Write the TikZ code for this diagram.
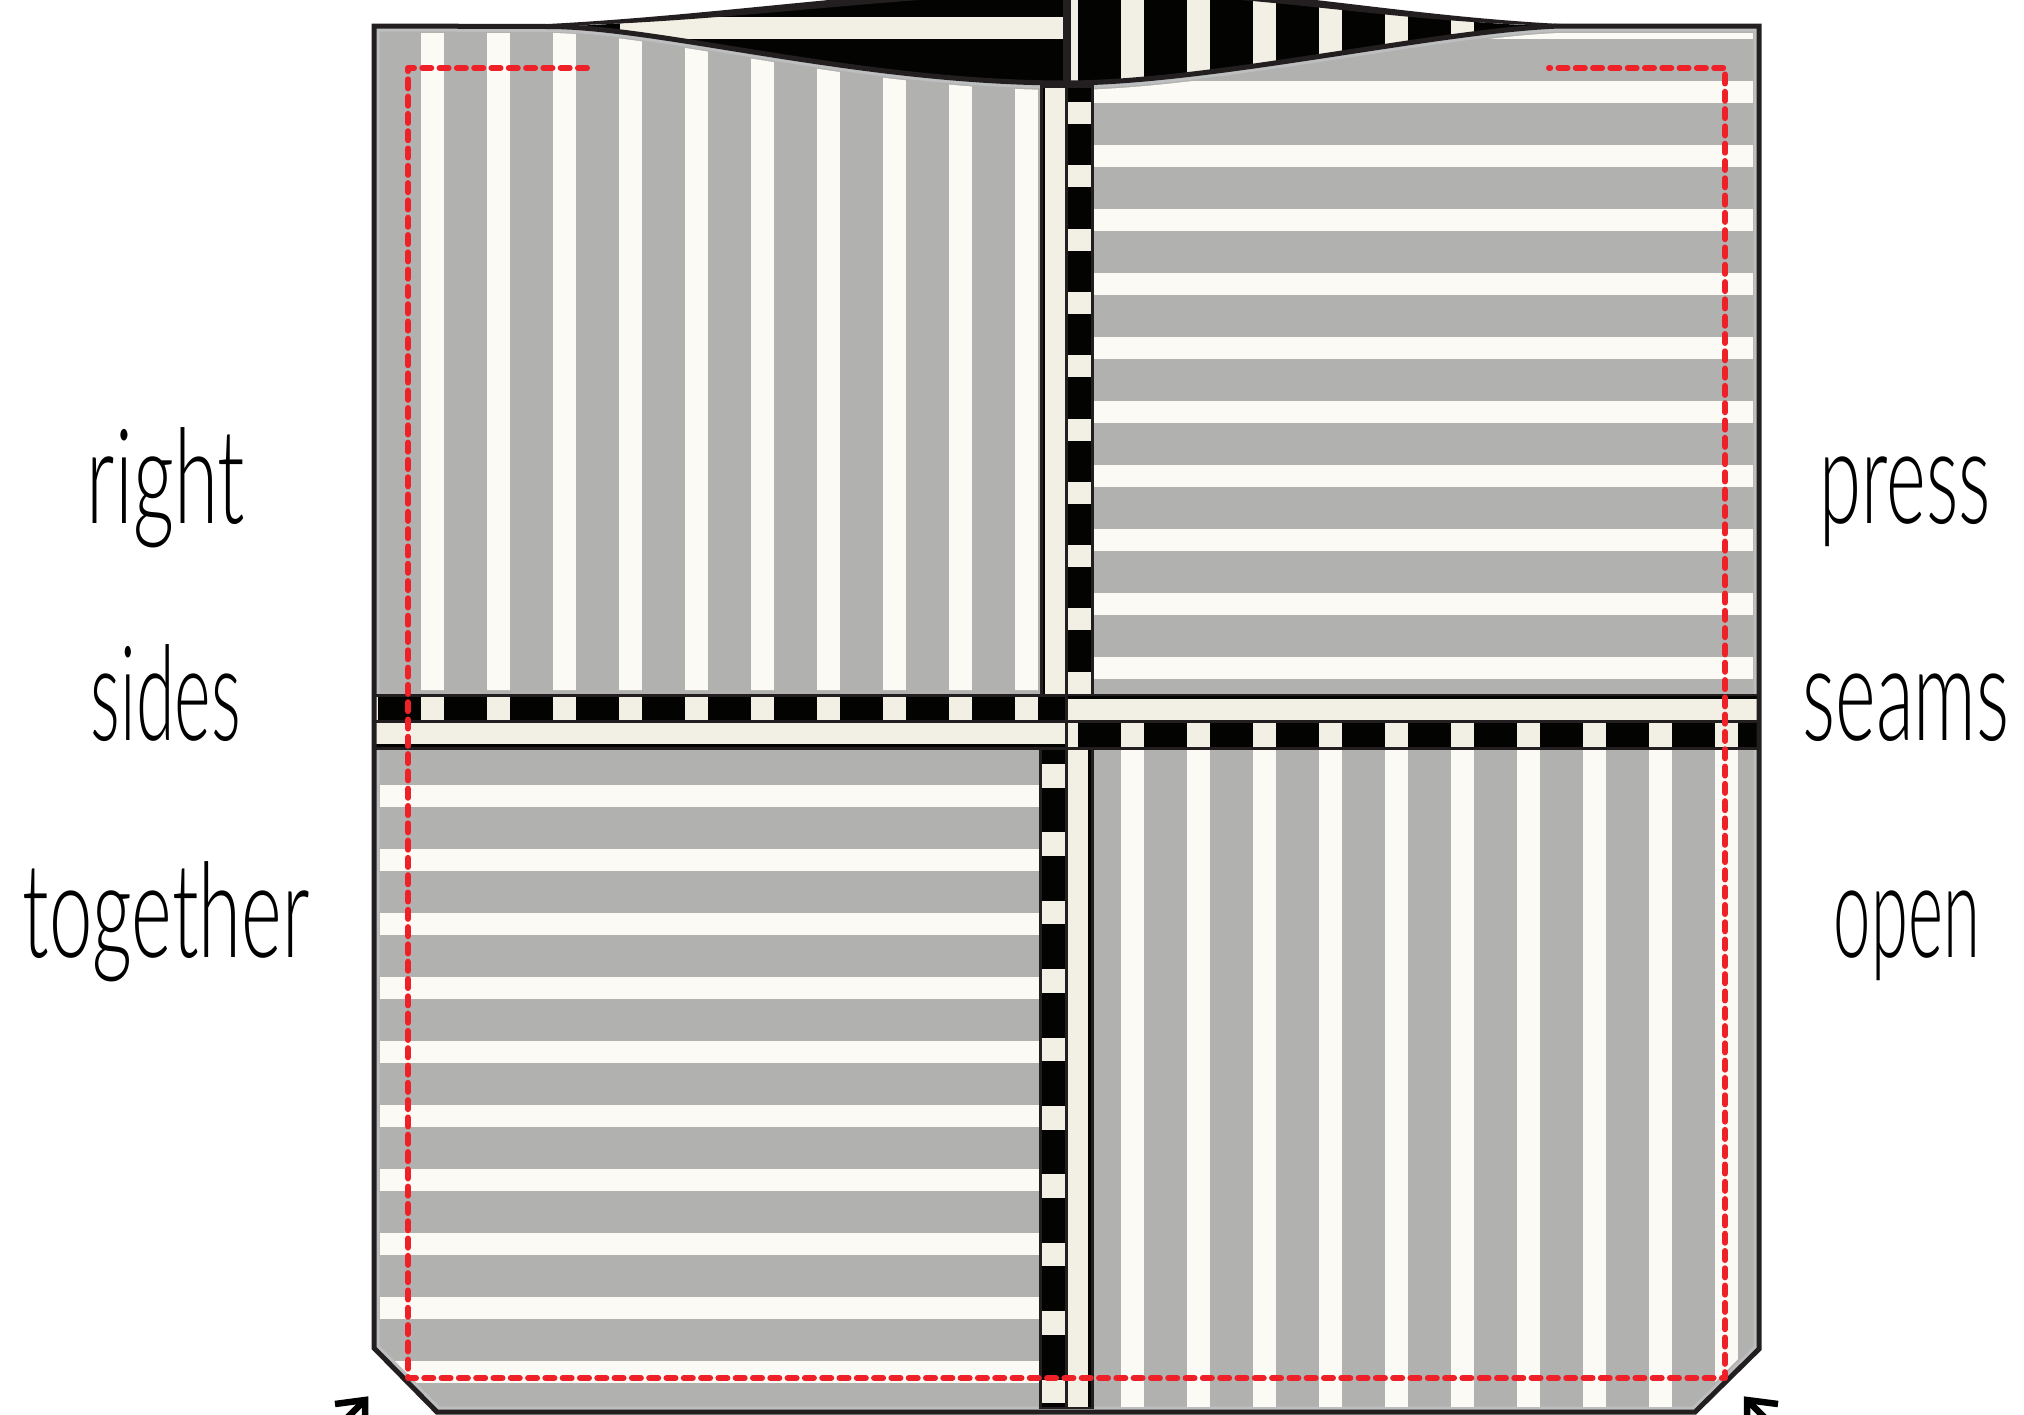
\documentclass[tikz,border=0pt]{standalone}
\usepackage{fontspec}
\newfontfamily\curlfont{Lato Light}
\definecolor{panelgray}{HTML}{B1B1AF}
\definecolor{halogray}{HTML}{BDBEBF}
\definecolor{stripewhite}{HTML}{FBFAF5}
\definecolor{creamy}{HTML}{F2F0E4}
\definecolor{darkline}{HTML}{231F20}
\definecolor{inkblack}{HTML}{030402}
\definecolor{seamred}{HTML}{EE2028}
\tikzset{
  px/.style={line width=#1*0.2845pt},
  outline/.style={draw=darkline,px=5,line join=miter},
  seam/.style={draw=seamred,px=6,line cap=round,line join=round,dash pattern=on 2.56pt off 2.36pt},
  pointer/.style={draw=black,px=6.5,line join=miter},
  curl/.style={font=\curlfont\fontsize{30pt}{30pt}\selectfont,text=black,inner sep=0pt,anchor=base}
}
\newdimen\pxunit \pxunit=0.2845pt
\newcommand{\fitword}[2]{\resizebox{#1\pxunit}{\height}{\scalebox{1}[1.25]{#2}}}
\newcommand{\outerpath}{(374,1348) -- (374,26) -- (550,26.5) .. controls (660,27) and (860,83) .. (1066,83) .. controls (1210,83) and (1440,30) .. (1560,26) -- (1759,26) -- (1759,1349) -- (1695,1412) -- (437,1412) -- cycle}
\newcommand{\flappath}{(550,26.5) .. controls (690,24) and (860,-6) .. (1066,-12) .. controls (1280,-12) and (1400,24) .. (1560,26) .. controls (1440,30) and (1210,83) .. (1066,83) .. controls (860,83) and (660,27) .. (550,26.5) -- cycle}
\begin{document}
\begin{tikzpicture}[x=0.01cm,y=-0.01cm]
\useasboundingbox (0,0) rectangle (2024,1414);
\clip (0,0) rectangle (2024,1414);
\fill[white] (0,0) rectangle (2024,1414);
% cloth
\fill[panelgray] \outerpath;
\begin{scope}
  \clip \outerpath;
  \draw[halogray,px=11] \outerpath;
\end{scope}
% white stripes
\begin{scope}
  \clip (378,33) -- (550,33) .. controls (660,34) and (860,90) .. (1066,90) -- (1066,690) -- (378,690) -- cycle;
  \foreach \x in {421,487,...,1015} \fill[stripewhite] (\x,0) rectangle (\x+23,700);
\end{scope}
\begin{scope}
  \clip (1066,90) .. controls (1210,90) and (1440,37) .. (1560,33) -- (1753,33) -- (1753,693) -- (1066,693) -- cycle;
  \fill[stripewhite] (1093,17) rectangle (1753,39);
  \foreach \y in {81,145,...,657} \fill[stripewhite] (1093,\y) rectangle (1753,\y+22);
\end{scope}
\begin{scope}
  \clip (380,750) -- (1040,750) -- (1040,1407) -- (441,1407) -- (380,1346) -- cycle;
  \foreach \y in {785,849,...,1361} \fill[stripewhite] (380,\y) rectangle (1040,\y+22);
\end{scope}
\begin{scope}
  \clip (1093,750) -- (1757,750) -- (1757,1340) -- (1690,1407) -- (1093,1407) -- cycle;
  \foreach \x in {1121,1187,...,1715} \fill[stripewhite] (\x,750) rectangle (\x+23,1407);
\end{scope}
% top flap
\begin{scope}
  \clip \flappath;
  \fill[inkblack] (500,-20) rectangle (1600,90);
  \fill[creamy] (620,17) rectangle (1063,39);
  \fill[creamy] (1071,-20) rectangle (1077.5,90);
  \foreach \x in {1121,1187,...,1451} \fill[creamy] (\x,-20) rectangle (\x+23,90);
  \fill[darkline] (1063,-20) rectangle (1071,90);
\end{scope}
% thick tapered upper edge of the flap
\fill[darkline] (500,26) .. controls (690,20) and (860,-10) .. (1066,-16) .. controls (1280,-16) and (1400,20) .. (1610,26)
  .. controls (1400,28) and (1280,-8) .. (1066,-8) .. controls (860,-2) and (690,28) .. (500,26) -- cycle;
% vertical strip, top
\fill[darkline] (1040,85) rectangle (1093.5,696);
\fill[inkblack] (1042.5,88) rectangle (1045,694);
\fill[creamy] (1045,88) rectangle (1065,694);
\fill[inkblack] (1068,88) rectangle (1091,694);
\foreach \k in {0,...,9} \fill[creamy] (1068,102+\k*63.3) rectangle (1091,124+\k*63.3);
% horizontal strip, left
\fill[darkline] (374,693.5) rectangle (1068,750);
\fill[inkblack] (376,697) rectangle (1065,720);
\fill[creamy] (376,697) rectangle (378,720);
\foreach \x in {421,487,...,1015} \fill[creamy] (\x,697) rectangle (\x+23,720);
\fill[creamy] (376,723) rectangle (1065,744);
\fill[inkblack] (376,744) rectangle (1065,747);
% horizontal strip, right
\fill[darkline] (1065,693.5) rectangle (1759,750);
\fill[inkblack] (1068,696) rectangle (1757,699);
\fill[creamy] (1068,699) rectangle (1757,720);
\fill[inkblack] (1068,723) rectangle (1757,747);
\fill[creamy] (1068,723) rectangle (1078,747);
\foreach \x in {1121,1187,...,1715} \fill[creamy] (\x,723) rectangle (\x+23,747);
% vertical strip, bottom
\fill[darkline] (1039,750) rectangle (1093.5,1409);
\fill[inkblack] (1042,750) rectangle (1065,1407);
\foreach \k in {0,...,9} \fill[creamy] (1042,764+\k*68.4) rectangle (1065,787.5+\k*68.4);
\fill[creamy] (1068,750) rectangle (1088,1407);
\fill[inkblack] (1088,750) rectangle (1091,1407);
% outline
\draw[outline] \outerpath;
% seam line
\coordinate (seamA) at (587,68);
\coordinate (seamB) at (408,68);
\coordinate (seamC) at (408,1378);
\coordinate (seamD) at (1725,1378);
\coordinate (seamE) at (1725,68);
\coordinate (seamF) at (1549,68);
\draw[seam] (seamA) -- (seamB) -- (seamC) -- (seamD) -- (seamE) -- (seamF);
% pointers
\coordinate (leftTip) at (365,1400);
\coordinate (leftTail) at (325,1440);
\coordinate (leftBarbA) at (335,1404);
\coordinate (leftBarbB) at (365,1440);
\coordinate (rightTip) at (1747,1400);
\coordinate (rightTail) at (1787,1440);
\coordinate (rightBarbA) at (1778,1404);
\coordinate (rightBarbB) at (1747,1440);
\draw[pointer] (leftTail) -- (leftTip);
\draw[pointer] (leftBarbA) -- (leftTip) -- (leftBarbB);
\draw[pointer] (rightTail) -- (rightTip);
\draw[pointer] (rightBarbA) -- (rightTip) -- (rightBarbB);
% labels
\node[curl] (right) at (166,523) {\fitword{158}{right}};
\node[curl] (sides) at (166,740) {\fitword{150}{sides}};
\node[curl] (together) at (166,957) {\fitword{287}{together}};
\node[curl] (press) at (1905,523) {\fitword{171}{press}};
\node[curl] (seams) at (1906,740) {\fitword{207}{seams}};
\node[curl] (open) at (1907,957) {\fitword{146}{open}};
\end{tikzpicture}
\end{document}
